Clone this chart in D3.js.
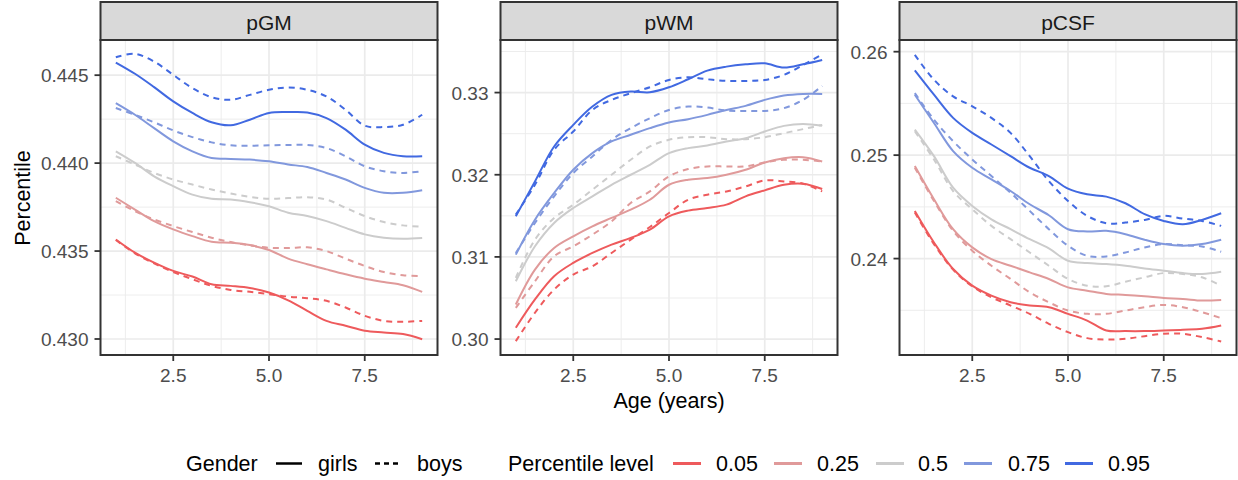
<!DOCTYPE html>
<html>
<head>
<meta charset="utf-8">
<script src="https://cdn.jsdelivr.net/npm/d3@7"></script>
<style>
  body { margin: 0; background: #fff; }
  text { font-family: "Liberation Sans", Arial, Helvetica, sans-serif; }
</style>
</head>
<body>
<div id="chart"></div>
<script>
// ages sampled every half year
const ages = [1, 1.5, 2, 2.5, 3, 3.5, 4, 4.5, 5, 5.5, 6, 6.5, 7, 7.5, 8, 8.5, 9];
const levels = ["0.05", "0.25", "0.5", "0.75", "0.95"];
const levelColors = ["#EE5A5C", "#E09A9A", "#CCCCCC", "#8198DD", "#4169E1"];
const facetNames = ["pGM", "pWM", "pCSF"];
const genders = ["girls", "boys"];

// pGM, one row per percentile level
const pgmGirls = [
  [0.43566, 0.43491, 0.43434, 0.43387, 0.43355, 0.43311, 0.43302, 0.43290, 0.43264, 0.43220, 0.43160, 0.43103, 0.43075, 0.43047, 0.43037, 0.43028, 0.42999],
  [0.43803, 0.43736, 0.43670, 0.43623, 0.43585, 0.43553, 0.43547, 0.43534, 0.43506, 0.43457, 0.43425, 0.43396, 0.43368, 0.43343, 0.43324, 0.43306, 0.43268],
  [0.44067, 0.44001, 0.43925, 0.43869, 0.43821, 0.43797, 0.43793, 0.43778, 0.43755, 0.43718, 0.43699, 0.43670, 0.43632, 0.43595, 0.43576, 0.43570, 0.43574],
  [0.44341, 0.44275, 0.44199, 0.44124, 0.44067, 0.44029, 0.44024, 0.44020, 0.44010, 0.43992, 0.43978, 0.43944, 0.43907, 0.43859, 0.43831, 0.43831, 0.43846],
  [0.44572, 0.44508, 0.44432, 0.44351, 0.44285, 0.44232, 0.44215, 0.44247, 0.44285, 0.44290, 0.44288, 0.44256, 0.44190, 0.44105, 0.44058, 0.44039, 0.44039]
];
const pgmBoys = [
  [0.43563, 0.43487, 0.43430, 0.43381, 0.43340, 0.43302, 0.43279, 0.43268, 0.43255, 0.43241, 0.43232, 0.43217, 0.43179, 0.43132, 0.43103, 0.43098, 0.43103],
  [0.43784, 0.43727, 0.43680, 0.43642, 0.43608, 0.43576, 0.43551, 0.43532, 0.43519, 0.43517, 0.43521, 0.43500, 0.43457, 0.43415, 0.43381, 0.43362, 0.43358],
  [0.44039, 0.43992, 0.43944, 0.43907, 0.43878, 0.43850, 0.43827, 0.43808, 0.43797, 0.43801, 0.43806, 0.43793, 0.43746, 0.43699, 0.43665, 0.43646, 0.43638],
  [0.44313, 0.44275, 0.44232, 0.44186, 0.44148, 0.44118, 0.44101, 0.44099, 0.44101, 0.44103, 0.44103, 0.44086, 0.44039, 0.43982, 0.43954, 0.43944, 0.43954],
  [0.44602, 0.44621, 0.44577, 0.44502, 0.44426, 0.44375, 0.44360, 0.44388, 0.44417, 0.44430, 0.44417, 0.44379, 0.44303, 0.44213, 0.44205, 0.44218, 0.44275]
];

// pWM
const pwmGirls = [
  [0.30137, 0.30482, 0.30765, 0.30927, 0.31048, 0.31150, 0.31231, 0.31332, 0.31494, 0.31563, 0.31595, 0.31636, 0.31737, 0.31810, 0.31878, 0.31891, 0.31826],
  [0.30421, 0.30846, 0.31109, 0.31251, 0.31372, 0.31474, 0.31575, 0.31696, 0.31878, 0.31939, 0.31959, 0.32000, 0.32061, 0.32150, 0.32202, 0.32214, 0.32162],
  [0.30704, 0.31129, 0.31413, 0.31595, 0.31737, 0.31878, 0.32000, 0.32121, 0.32263, 0.32324, 0.32356, 0.32405, 0.32445, 0.32526, 0.32595, 0.32619, 0.32595],
  [0.31028, 0.31453, 0.31777, 0.32061, 0.32263, 0.32405, 0.32486, 0.32567, 0.32636, 0.32676, 0.32729, 0.32789, 0.32838, 0.32911, 0.32964, 0.32984, 0.32984],
  [0.31494, 0.31919, 0.32344, 0.32607, 0.32830, 0.32972, 0.33012, 0.33004, 0.33065, 0.33162, 0.33267, 0.33316, 0.33344, 0.33356, 0.33304, 0.33344, 0.33397]
];
const pwmBoys = [
  [0.29975, 0.30320, 0.30603, 0.30785, 0.30886, 0.31048, 0.31210, 0.31364, 0.31534, 0.31696, 0.31757, 0.31797, 0.31858, 0.31931, 0.31919, 0.31891, 0.31797],
  [0.30380, 0.30704, 0.31008, 0.31129, 0.31271, 0.31433, 0.31656, 0.31797, 0.31980, 0.32069, 0.32101, 0.32101, 0.32101, 0.32150, 0.32182, 0.32182, 0.32162],
  [0.30745, 0.31210, 0.31474, 0.31635, 0.31818, 0.32000, 0.32182, 0.32344, 0.32425, 0.32457, 0.32457, 0.32433, 0.32433, 0.32457, 0.32506, 0.32555, 0.32607],
  [0.31048, 0.31413, 0.31737, 0.32020, 0.32223, 0.32425, 0.32567, 0.32688, 0.32789, 0.32830, 0.32818, 0.32781, 0.32777, 0.32777, 0.32810, 0.32911, 0.33081],
  [0.31514, 0.31878, 0.32304, 0.32526, 0.32789, 0.32911, 0.32992, 0.33065, 0.33154, 0.33186, 0.33162, 0.33142, 0.33142, 0.33154, 0.33215, 0.33336, 0.33466]
];

// pCSF
const pcsfGirls = [
  [0.24461, 0.24156, 0.23899, 0.23738, 0.23642, 0.23578, 0.23546, 0.23530, 0.23466, 0.23401, 0.23305, 0.23299, 0.23299, 0.23305, 0.23312, 0.23321, 0.23353],
  [0.24894, 0.24573, 0.24284, 0.24108, 0.23995, 0.23931, 0.23867, 0.23803, 0.23722, 0.23690, 0.23658, 0.23649, 0.23636, 0.23620, 0.23610, 0.23594, 0.23600],
  [0.25247, 0.24990, 0.24685, 0.24509, 0.24380, 0.24284, 0.24188, 0.24098, 0.23979, 0.23957, 0.23947, 0.23931, 0.23905, 0.23883, 0.23860, 0.23851, 0.23873],
  [0.25584, 0.25311, 0.25039, 0.24878, 0.24766, 0.24653, 0.24525, 0.24419, 0.24284, 0.24262, 0.24268, 0.24236, 0.24182, 0.24140, 0.24124, 0.24140, 0.24182],
  [0.25819, 0.25584, 0.25360, 0.25215, 0.25103, 0.24990, 0.24878, 0.24798, 0.24676, 0.24621, 0.24599, 0.24535, 0.24429, 0.24364, 0.24332, 0.24374, 0.24438]
];
const pcsfBoys = [
  [0.24445, 0.24140, 0.23893, 0.23732, 0.23626, 0.23546, 0.23466, 0.23369, 0.23289, 0.23231, 0.23218, 0.23225, 0.23250, 0.23273, 0.23273, 0.23241, 0.23199],
  [0.24878, 0.24557, 0.24268, 0.24076, 0.23931, 0.23803, 0.23674, 0.23578, 0.23498, 0.23466, 0.23466, 0.23498, 0.23530, 0.23552, 0.23530, 0.23482, 0.23424],
  [0.25231, 0.24958, 0.24653, 0.24477, 0.24316, 0.24188, 0.24059, 0.23931, 0.23803, 0.23738, 0.23732, 0.23777, 0.23819, 0.23860, 0.23851, 0.23819, 0.23738],
  [0.25600, 0.25343, 0.25135, 0.24958, 0.24798, 0.24637, 0.24461, 0.24284, 0.24124, 0.24027, 0.24021, 0.24059, 0.24108, 0.24140, 0.24130, 0.24117, 0.24066],
  [0.25969, 0.25729, 0.25568, 0.25472, 0.25360, 0.25215, 0.24990, 0.24750, 0.24557, 0.24413, 0.24342, 0.24348, 0.24374, 0.24413, 0.24387, 0.24364, 0.24316]
];

// tick labels
const xTicks = [2.5, 5.0, 7.5];
const xMinor = [1.25, 3.75, 6.25, 8.75];
const pgmTicks = [0.430, 0.435, 0.440, 0.445];
const pwmTicks = [0.30, 0.31, 0.32, 0.33];
const pcsfTicks = [0.24, 0.25, 0.26];

const facets = [
  { name: "pGM", girls: pgmGirls, boys: pgmBoys, ticks: pgmTicks, step: 0.005, fmt: ".3f", domain: [0.42909, 0.44700] },
  { name: "pWM", girls: pwmGirls, boys: pwmBoys, ticks: pwmTicks, step: 0.01, fmt: ".2f", domain: [0.29806, 0.33640] },
  { name: "pCSF", girls: pcsfGirls, boys: pcsfBoys, ticks: pcsfTicks, step: 0.01, fmt: ".2f", domain: [0.23068, 0.26113] }
];

const W = 1238, H = 480;
const panelLeft = [100.5, 500.5, 899.5];
const panelW = 337, panelTop = 40, panelBottom = 355;
const stripTop = 2;

const svg = d3.select("#chart").append("svg")
  .attr("width", W)
  .attr("height", H);

const line = d3.line().curve(d3.curveCatmullRom.alpha(0.5));

facets.forEach((f, fi) => {
  let x0 = panelLeft[fi];
  let x = d3.scaleLinear().domain([0.6, 9.4]).range([x0, x0 + panelW]);
  let y = d3.scaleLinear().domain(f.domain).range([panelBottom, panelTop]);

  let g = svg.append("g");

  // panel background
  g.append("rect")
    .attr("x", x0).attr("y", panelTop)
    .attr("width", panelW).attr("height", panelBottom - panelTop)
    .attr("fill", "#fff");

  // minor grid
  let yMinor = f.ticks.map(t => t - f.step / 2).concat([f.ticks[f.ticks.length - 1] + f.step / 2])
    .filter(v => v > f.domain[0] && v < f.domain[1]);
  g.selectAll(".ymin").data(yMinor).enter().append("line")
    .attr("x1", x0).attr("x2", x0 + panelW)
    .attr("y1", d => y(d)).attr("y2", d => y(d))
    .attr("stroke", "#EBEBEB").attr("stroke-width", 0.9);
  g.selectAll(".xmin").data(xMinor).enter().append("line")
    .attr("x1", d => x(d)).attr("x2", d => x(d))
    .attr("y1", panelTop).attr("y2", panelBottom)
    .attr("stroke", "#EBEBEB").attr("stroke-width", 0.9);

  // major grid
  g.selectAll(".ymaj").data(f.ticks).enter().append("line")
    .attr("x1", x0).attr("x2", x0 + panelW)
    .attr("y1", d => y(d)).attr("y2", d => y(d))
    .attr("stroke", "#EBEBEB").attr("stroke-width", 1.7);
  g.selectAll(".xmaj").data(xTicks).enter().append("line")
    .attr("x1", d => x(d)).attr("x2", d => x(d))
    .attr("y1", panelTop).attr("y2", panelBottom)
    .attr("stroke", "#EBEBEB").attr("stroke-width", 1.7);

  // curves
  let lineGroup = g.append("g");
  levels.forEach((lv, li) => {
    genders.forEach(gender => {
      let vals = gender === "girls" ? f.girls[li] : f.boys[li];
      let pts = ages.map((a, i) => [x(a), y(vals[i])]);
      lineGroup.append("path")
        .attr("d", line(pts))
        .attr("fill", "none")
        .attr("stroke", levelColors[li])
        .attr("stroke-width", 2)
        .attr("stroke-dasharray", gender === "boys" ? "6,5" : null);
    });
  });

  // panel border
  g.append("rect")
    .attr("x", x0).attr("y", panelTop)
    .attr("width", panelW).attr("height", panelBottom - panelTop)
    .attr("fill", "none").attr("stroke", "#333333").attr("stroke-width", 2);

  // strip
  g.append("rect")
    .attr("x", x0).attr("y", stripTop)
    .attr("width", panelW).attr("height", panelTop - stripTop)
    .attr("fill", "#D9D9D9").attr("stroke", "#333333").attr("stroke-width", 2);
  g.append("text")
    .attr("x", x0 + panelW / 2).attr("y", 29.5)
    .attr("text-anchor", "middle")
    .attr("font-size", "21px")
    .attr("fill", "#1A1A1A")
    .text(f.name);

  // y axis ticks
  let fmt = d3.format(f.fmt);
  g.selectAll(".ytick").data(f.ticks).enter().append("line")
    .attr("x1", x0 - 6).attr("x2", x0)
    .attr("y1", d => y(d)).attr("y2", d => y(d))
    .attr("stroke", "#333333").attr("stroke-width", 1.8);
  g.selectAll(".ylab").data(f.ticks).enter().append("text")
    .attr("x", x0 - 12)
    .attr("y", d => y(d) + 7)
    .attr("text-anchor", "end")
    .attr("font-size", "19px")
    .attr("fill", "#4D4D4D")
    .text(d => fmt(d));

  // x axis ticks
  g.selectAll(".xtick").data(xTicks).enter().append("line")
    .attr("x1", d => x(d)).attr("x2", d => x(d))
    .attr("y1", panelBottom).attr("y2", panelBottom + 6)
    .attr("stroke", "#333333").attr("stroke-width", 1.8);
  g.selectAll(".xlab").data(xTicks).enter().append("text")
    .attr("x", d => x(d))
    .attr("y", 382)
    .attr("text-anchor", "middle")
    .attr("font-size", "19px")
    .attr("fill", "#4D4D4D")
    .text(d => d3.format(".1f")(d));
});

// axis titles
svg.append("text")
  .attr("x", 669).attr("y", 407.5)
  .attr("text-anchor", "middle")
  .attr("font-size", "21.5px")
  .text("Age (years)");
svg.append("text")
  .attr("transform", "translate(30,198) rotate(-90)")
  .attr("text-anchor", "middle")
  .attr("font-size", "21.5px")
  .text("Percentile");

// legend
let legend = svg.append("g").attr("class", "legend");
let legY = 463.5, legBase = 471;
let fs = "21.5px";

legend.append("text").attr("x", 186).attr("y", legBase).attr("font-size", fs).text("Gender");
let genderKeyX = [276, 375];
let genderTextX = [318, 417];
genders.forEach((gd, i) => {
  legend.append("line")
    .attr("x1", genderKeyX[i]).attr("x2", genderKeyX[i] + 26)
    .attr("y1", legY).attr("y2", legY)
    .attr("stroke", "#000").attr("stroke-width", 2.5)
    .attr("stroke-dasharray", gd === "boys" ? "5,4" : null);
  legend.append("text").attr("x", genderTextX[i]).attr("y", legBase).attr("font-size", fs).text(gd);
});

legend.append("text").attr("x", 508).attr("y", legBase).attr("font-size", fs).text("Percentile level");
let levelKeyX = [673, 774, 876, 964, 1065];
let levelTextX = [716, 817, 918, 1008, 1108];
levels.forEach((lv, i) => {
  legend.append("line")
    .attr("x1", levelKeyX[i]).attr("x2", levelKeyX[i] + 28)
    .attr("y1", legY).attr("y2", legY)
    .attr("stroke", levelColors[i]).attr("stroke-width", 3);
  legend.append("text").attr("x", levelTextX[i]).attr("y", legBase).attr("font-size", fs).text(lv);
});
</script>
</body>
</html>
